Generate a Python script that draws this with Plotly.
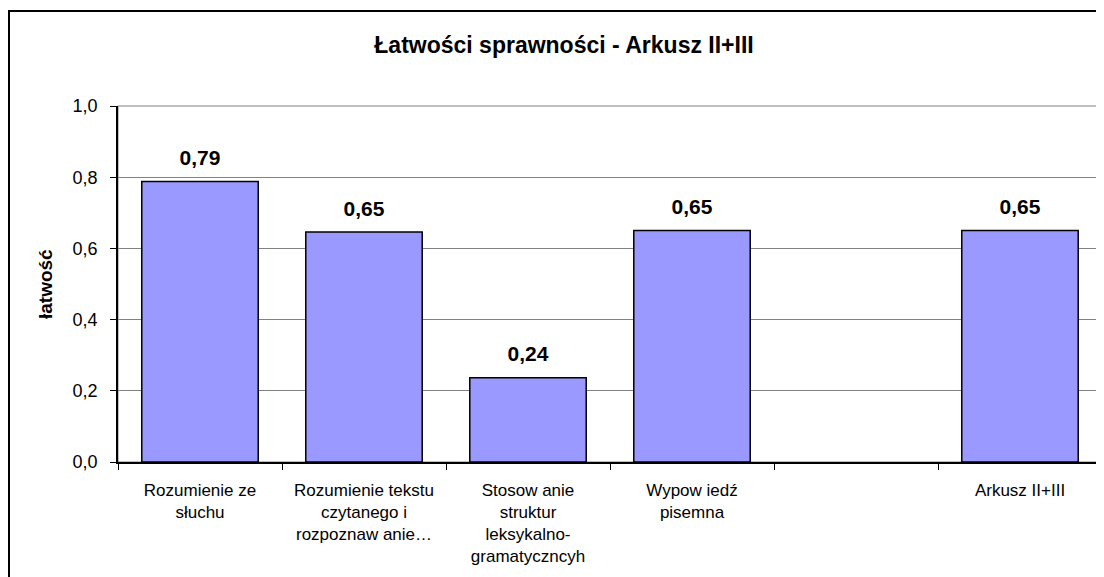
import plotly.graph_objects as go

categories = [
    "Rozumienie ze<br>słuchu",
    "Rozumienie tekstu<br>czytanego i<br>rozpoznaw anie…",
    "Stosow anie<br>struktur<br>leksykalno-<br>gramatyczncyh",
    "Wypow iedź<br>pisemna",
    " ",
    "Arkusz II+III",
]
values = [0.788, 0.646, 0.237, 0.650, None, 0.650]
labels = ["0,79", "0,65", "0,24", "0,65", "", "0,65"]
y_ticks = [0.0, 0.2, 0.4, 0.6, 0.8, 1.0]

OFF = 8  # page body margin
W, H = 1104 - OFF, 577 - OFF
L, T = 118 - OFF, 106 - OFF
R = W - (1102 - OFF)
B = H - (462 - OFF)
pw, ph = W - L - R, H - T - B

def px_x(x):  # page px -> paper
    return (x - OFF - L) / pw

def px_y(y):
    return (H - B - (y - OFF)) / ph

FONT = "Liberation Sans, Arial, sans-serif"

fig = go.Figure()
fig.add_trace(go.Bar(
    x=categories, y=values,
    marker=dict(color="#9999FF", line=dict(color="black", width=1.5)),
    hoverinfo="skip",
))
fig.add_trace(go.Scatter(
    x=categories, y=values, text=labels, mode="markers+text",
    textposition="top center",
    texttemplate="<b>%{text}</b>",
    textfont=dict(family=FONT, size=21, color="black"),
    marker=dict(size=16, opacity=0),
    cliponaxis=False, hoverinfo="skip",
))

fig.update_layout(
    width=W, height=H,
    margin=dict(l=L, r=R, t=T, b=B),
    paper_bgcolor="white", plot_bgcolor="white",
    separators=",.",
    bargap=0.29,
    showlegend=False,
    font=dict(family=FONT, color="black"),
    title=dict(text="<b>Łatwości sprawności - Arkusz II+III</b>",
               x=px_x(564), xref="paper", xanchor="center",
               y=1 - (45 - OFF) / H, yanchor="middle", yref="container",
               font=dict(size=23, color="black")),
)
fig.update_yaxes(
    range=[0, 1.0], tickvals=y_ticks, tickformat=".1f",
    showgrid=True, gridcolor="#808080", gridwidth=1,
    showline=True, linecolor="black", linewidth=1.5,
    ticks="outside", ticklen=6, tickcolor="black",
    ticklabelstandoff=9,
    tickfont=dict(size=18, color="black"),
    zeroline=False, fixedrange=True,
)
fig.update_xaxes(
    type="category", tickson="boundaries", ticks="outside", ticklen=6,
    tickcolor="black", showline=True, linecolor="black", linewidth=1.5,
    ticklabelstandoff=12,
    tickfont=dict(size=17, color="black"), fixedrange=True,
)
fig.add_annotation(text="<b>łatwość</b>", textangle=-90,
                   xref="paper", yref="paper", x=px_x(45), y=px_y(284),
                   xanchor="center", yanchor="middle", showarrow=False,
                   font=dict(family=FONT, size=19, color="black"))
# plot area border (gray)
fig.add_shape(type="rect", xref="paper", yref="paper", x0=0, x1=1, y0=0, y1=1,
              line=dict(color="#808080", width=1), layer="below")
# outer chart border (top and left visible)
fig.add_shape(type="rect", xref="paper", yref="paper",
              x0=px_x(9), x1=px_x(1130), y0=px_y(620), y1=px_y(11),
              line=dict(color="black", width=2), layer="above")

fig.write_html("out.html")
